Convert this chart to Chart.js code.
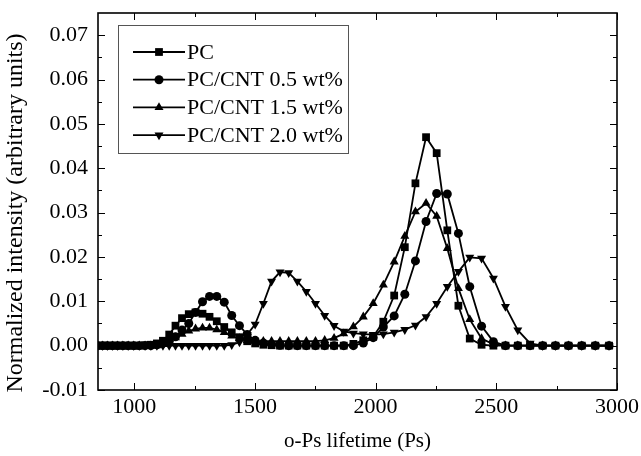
<!DOCTYPE html>
<html>
<head>
<meta charset="utf-8">
<script src="https://cdn.jsdelivr.net/npm/chart.js@4.4.1/dist/chart.umd.min.js"></script>
<style>
  body { margin: 0; background: #fff; }
  #wrap { width: 641px; height: 456px; }
</style>
</head>
<body>
<div id="wrap"><canvas id="chart" width="641" height="456"></canvas></div>
<script>
// lifetime grid (ps), shared by all four curves
const lifetime = [849, 869, 889, 910, 931, 953, 975, 998, 1021, 1045, 1069, 1094, 1119, 1145, 1171, 1198, 1226, 1254, 1283, 1312,
  1342, 1373, 1404, 1436, 1468, 1501, 1535, 1569, 1604, 1640, 1676, 1713, 1751, 1789, 1828, 1868, 1908, 1949, 1990, 2032,
  2077, 2121, 2165, 2209, 2253, 2297, 2343, 2390, 2439, 2488, 2538, 2589, 2640, 2692, 2745, 2799, 2854, 2910, 2967];

const pc = [0, 0, 0, 0, 0, 0, 0, 0, 0, 0.0001, 0.0002, 0.0005, 0.0011, 0.0025, 0.0045, 0.0062, 0.0071, 0.0075, 0.0072, 0.0065,
  0.0055, 0.0042, 0.003, 0.0019, 0.001, 0.0005, 0.0002, 0.0001, 0, 0, 0, 0, 0, 0, 0, 0, 0.0004, 0.0012, 0.002, 0.0054,
  0.0113, 0.0222, 0.0366, 0.047, 0.0434, 0.026, 0.009, 0.0016, 0.0002, 0, 0, 0, 0, 0, 0, 0, 0, 0, 0];

const cnt05 = [0, 0, 0, 0, 0, 0, 0, 0, 0, 0, 0, 0.0002, 0.0005, 0.001, 0.002, 0.0035, 0.005, 0.0075, 0.0099, 0.0111,
  0.0111, 0.0098, 0.0068, 0.0045, 0.0025, 0.0012, 0.0006, 0.0003, 0.0001, 0, 0, 0, 0, 0, 0, 0, 0, 0.0006, 0.0018, 0.0042,
  0.0067, 0.0116, 0.0191, 0.028, 0.0343, 0.0342, 0.0253, 0.0133, 0.0044, 0.0009, 0, 0, 0, 0, 0, 0, 0, 0, 0];

const cnt15 = [0, 0, 0, 0, 0, 0, 0, 0, 0, 0, 0, 0, 0.0003, 0.001, 0.0018, 0.0026, 0.0033, 0.0038, 0.004, 0.004,
  0.0036, 0.003, 0.0022, 0.0016, 0.0012, 0.001, 0.001, 0.001, 0.001, 0.001, 0.001, 0.001, 0.001, 0.0012, 0.0017, 0.0027, 0.0043, 0.0065, 0.0095, 0.0137,
  0.0189, 0.0247, 0.0302, 0.0321, 0.0292, 0.0219, 0.0129, 0.0059, 0.0016, 0.0003, 0, 0, 0, 0, 0, 0, 0, 0, 0];

const cnt20 = [0, 0, 0, 0, 0, 0, 0, 0, 0, 0, 0, 0, 0, 0, 0, 0, 0, 0, 0, 0,
  0, 0, 0.0002, 0.0008, 0.0025, 0.0048, 0.0095, 0.0145, 0.0166, 0.0164, 0.0145, 0.0122, 0.0095, 0.0068, 0.0045, 0.0032, 0.0028, 0.0026, 0.0025, 0.0026,
  0.003, 0.0036, 0.0046, 0.0065, 0.0095, 0.0133, 0.0167, 0.0199, 0.0197, 0.0152, 0.0088, 0.0035, 0.0005, 0, 0, 0, 0, 0, 0];

const labels = ['PC', 'PC/CNT 0.5 wt%', 'PC/CNT 1.5 wt%', 'PC/CNT 2.0 wt%'];
const xTicks = [1000, 1500, 2000, 2500, 3000];
const yTicks = [-0.01, 0, 0.01, 0.02, 0.03, 0.04, 0.05, 0.06, 0.07];
const yTitle = 'Normalized intensity (arbitrary units)';

const FONT = 'Liberation Serif';

function toPoints(vals) {
  return vals.map((v, i) => ({ x: lifetime[i], y: v }));
}

function makeSet(label, vals, style, radius, rotation) {
  return {
    label: label,
    data: toPoints(vals),
    borderColor: '#000',
    backgroundColor: '#000',
    borderWidth: 1.8,
    pointStyle: style,
    pointRadius: radius,
    pointRotation: rotation,
    pointBorderWidth: 0,
    pointBackgroundColor: '#000',
    tension: 0
  };
}

// frame + inward ticks on all four sides, and the rotated y title
const frameTicks = {
  id: 'frameTicks',
  afterDraw(chart) {
    const { ctx, chartArea: a, scales: { x, y } } = chart;
    ctx.save();
    ctx.strokeStyle = '#000';
    ctx.lineWidth = 1;
    const xMinor = xTicks.slice(0, -1).map((v, i) => (v + xTicks[i + 1]) / 2);
    const yMinor = yTicks.slice(0, -1).map((v, i) => (v + yTicks[i + 1]) / 2);
    ctx.beginPath();
    xTicks.forEach(v => {
      const p = Math.round(x.getPixelForValue(v)) + 0.5;
      ctx.moveTo(p, a.bottom); ctx.lineTo(p, a.bottom - 7);
      ctx.moveTo(p, a.top); ctx.lineTo(p, a.top + 7);
    });
    xMinor.forEach(v => {
      const p = Math.round(x.getPixelForValue(v)) + 0.5;
      ctx.moveTo(p, a.bottom); ctx.lineTo(p, a.bottom - 4);
      ctx.moveTo(p, a.top); ctx.lineTo(p, a.top + 4);
    });
    yTicks.forEach(v => {
      const p = Math.round(y.getPixelForValue(v)) + 0.5;
      ctx.moveTo(a.left, p); ctx.lineTo(a.left + 7, p);
      ctx.moveTo(a.right, p); ctx.lineTo(a.right - 7, p);
    });
    yMinor.forEach(v => {
      const p = Math.round(y.getPixelForValue(v)) + 0.5;
      ctx.moveTo(a.left, p); ctx.lineTo(a.left + 4, p);
      ctx.moveTo(a.right, p); ctx.lineTo(a.right - 4, p);
    });
    ctx.stroke();
    ctx.lineWidth = 1.6;
    ctx.strokeRect(a.left, a.top, a.right - a.left, a.bottom - a.top);

    ctx.translate(16, 213);
    ctx.rotate(-Math.PI / 2);
    ctx.fillStyle = '#000';
    ctx.font = '24px "' + FONT + '"';
    ctx.textAlign = 'center';
    ctx.textBaseline = 'middle';
    ctx.fillText(yTitle, 0, 0);
    ctx.restore();
  }
};

// boxed legend in the upper left of the plot
const boxLegend = {
  id: 'boxLegend',
  afterDraw(chart) {
    const { ctx, chartArea: a } = chart;
    const bx = a.left + 20, by = a.top + 12, bw = 230, bh = 128;
    ctx.save();
    ctx.fillStyle = '#fff';
    ctx.fillRect(bx, by, bw, bh);
    ctx.strokeStyle = '#555';
    ctx.lineWidth = 1;
    ctx.strokeRect(bx + 0.5, by + 0.5, bw, bh);
    ctx.font = '22px "' + FONT + '"';
    ctx.textBaseline = 'middle';
    chart.data.datasets.forEach((ds, i) => {
      const cy = by + 27 + i * 27.7;
      ctx.strokeStyle = '#000';
      ctx.lineWidth = 1.8;
      ctx.beginPath();
      ctx.moveTo(bx + 15, cy); ctx.lineTo(bx + 67, cy);
      ctx.stroke();
      ctx.fillStyle = '#000';
      Chart.helpers.drawPoint(ctx, {
        pointStyle: ds.pointStyle, radius: ds.pointRadius, rotation: ds.pointRotation, borderWidth: 0
      }, bx + 41, cy);
      ctx.fillStyle = '#000';
      ctx.fillText(ds.label, bx + 69, cy + 1);
    });
    ctx.restore();
  }
};

const ctx = document.getElementById('chart');
new Chart(ctx, {
  type: 'line',
  data: {
    datasets: [
      makeSet(labels[0], pc, 'rect', 5.5, 0),
      makeSet(labels[1], cnt05, 'circle', 4.5, 0),
      makeSet(labels[2], cnt15, 'triangle', 5.2, 0),
      makeSet(labels[3], cnt20, 'triangle', 5.2, 180)
    ]
  },
  options: {
    responsive: false,
    animation: false,
    layout: { padding: { left: 0, right: 24, top: 13, bottom: 0 } },
    plugins: { legend: { display: false }, tooltip: { enabled: false } },
    scales: {
      x: {
        type: 'linear',
        min: 850,
        max: 3000,
        afterBuildTicks: s => { s.ticks = xTicks.map(v => ({ value: v })); },
        afterFit: s => { s.height = 66; s.paddingLeft = 0; s.paddingRight = 0; },
        grid: { display: false, drawTicks: false },
        border: { display: false },
        ticks: { color: '#000', padding: 4, maxRotation: 0, font: { family: FONT, size: 22 }, callback: v => String(v) },
        title: { display: true, text: 'o-Ps lifetime (Ps)', color: '#000', font: { family: FONT, size: 21 }, padding: { top: 0, bottom: 2 } }
      },
      y: {
        type: 'linear',
        min: -0.01,
        max: 0.075,
        afterBuildTicks: s => { s.ticks = yTicks.map(v => ({ value: v })); },
        afterFit: s => { s.width = 98; s.paddingTop = 0; s.paddingBottom = 0; },
        grid: { display: false, drawTicks: false },
        border: { display: false },
        ticks: { color: '#000', padding: 10, font: { family: FONT, size: 22 }, callback: v => v.toFixed(2) }
      }
    }
  },
  plugins: [frameTicks, boxLegend]
});
</script>
</body>
</html>
